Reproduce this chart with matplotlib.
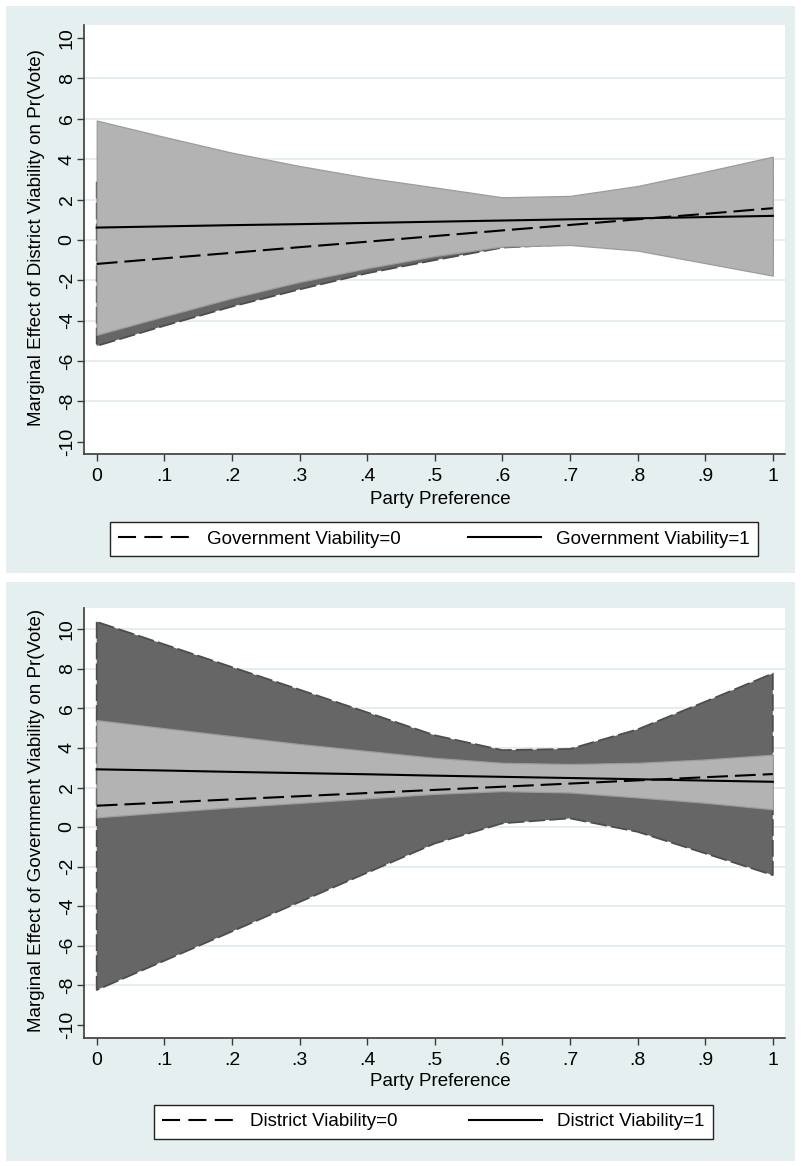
import matplotlib
matplotlib.use("Agg")
import matplotlib.pyplot as plt
from matplotlib.patches import Rectangle
from matplotlib.lines import Line2D

plt.rcParams['font.family'] = ['Liberation Sans', 'DejaVu Sans']
plt.rcParams['lines.scale_dashes'] = False

# ---------------- data ----------------
party_pref = [0.0, 0.1, 0.2, 0.3, 0.4, 0.5, 0.6, 0.7, 0.8, 0.9, 1.0]
x_ticks = [0.0, 0.1, 0.2, 0.3, 0.4, 0.5, 0.6, 0.7, 0.8, 0.9, 1.0]
x_tick_labels = ["0", ".1", ".2", ".3", ".4", ".5", ".6", ".7", ".8", ".9", "1"]
y_ticks = [-10, -8, -6, -4, -2, 0, 2, 4, 6, 8, 10]
y_tick_labels = ["-10", "-8", "-6", "-4", "-2", "0", "2", "4", "6", "8", "10"]

# Top panel: marginal effect of District Viability
top_gov0 = [-1.19, -0.91, -0.64, -0.36, -0.09, 0.19, 0.47, 0.74, 1.02, 1.29, 1.57]
top_gov1 = [0.61, 0.67, 0.73, 0.78, 0.84, 0.90, 0.96, 1.02, 1.07, 1.13, 1.19]
top_gov0_hi = [2.87, 2.43, 2.02, 1.73, 1.47, 1.38, 1.32, 1.70, 2.32, 3.09, 3.90]
top_gov0_lo = [-5.25, -4.25, -3.30, -2.45, -1.65, -1.00, -0.38, -0.22, -0.28, -0.51, -0.80]
top_gov1_hi = [5.91, 5.10, 4.32, 3.66, 3.08, 2.60, 2.11, 2.18, 2.67, 3.38, 4.12]
top_gov1_lo = [-4.70, -3.78, -2.88, -2.08, -1.40, -0.80, -0.33, -0.25, -0.53, -1.15, -1.77]

# Bottom panel: marginal effect of Government Viability
bot_dist0 = [1.08, 1.24, 1.40, 1.56, 1.72, 1.88, 2.04, 2.20, 2.36, 2.52, 2.68]
bot_dist1 = [2.92, 2.86, 2.79, 2.73, 2.67, 2.60, 2.54, 2.48, 2.42, 2.35, 2.29]
bot_dist0_hi = [10.38, 9.24, 8.09, 6.95, 5.80, 4.64, 3.89, 3.95, 4.94, 6.34, 7.77]
bot_dist0_lo = [-8.24, -6.76, -5.28, -3.79, -2.31, -0.83, 0.19, 0.44, -0.24, -1.33, -2.43]
bot_dist1_hi = [5.41, 5.00, 4.60, 4.20, 3.85, 3.50, 3.25, 3.19, 3.25, 3.42, 3.66]
bot_dist1_lo = [0.49, 0.75, 1.00, 1.22, 1.45, 1.68, 1.82, 1.75, 1.50, 1.23, 0.90]

x_label = "Party Preference"
top_ylabel = "Marginal Effect of District Viability on Pr(Vote)"
bot_ylabel = "Marginal Effect of Government Viability on Pr(Vote)"
top_legend = ["Government Viability=0", "Government Viability=1"]
bot_legend = ["District Viability=0", "District Viability=1"]

# ---------------- style ----------------
W, H = 801, 1166
BG = '#e6eff0'
GRID = '#e2edef'
SPINE = '#3a3a3a'
LIGHT = '#b3b3b3'
DARK = '#666666'
FS = 13.5
TFS = 14
DASH = (15, 5)

fig = plt.figure(figsize=(W / 100, H / 100), dpi=100, facecolor='white')


def fbox(l, t, r, b):
    return [l / W, 1 - b / H, (r - l) / W, (b - t) / H]


for (l, t, r, b) in [(6, 6, 795, 573), (6, 582, 795, 1161)]:
    fig.add_artist(Rectangle((l / W, 1 - b / H), (r - l) / W, (b - t) / H,
                             transform=fig.transFigure, facecolor=BG,
                             edgecolor='none', zorder=-10))


def panel(box, ylim, grid_vals, lo_d, hi_d, lo_l, hi_l, line_d, line_s,
          ylabel, ylabel_pos, xlabel_y, legend_labels, legend_center, colsp):
    ax = fig.add_axes(fbox(*box))
    ax.set_facecolor('white')
    ax.set_xlim(-0.0188, 1.018)
    ax.set_ylim(*ylim)
    for g in grid_vals:
        ax.axhline(g, color=GRID, lw=1.3, zorder=0.5)
    # dark band (dashed outline)
    ax.fill_between(party_pref, lo_d, hi_d, facecolor=DARK, edgecolor='#4d4d4d',
                    linewidth=1.3, linestyle=(0, (12, 3)), zorder=1)
    # light band
    ax.fill_between(party_pref, lo_l, hi_l, facecolor=LIGHT, edgecolor='#9c9c9c',
                    linewidth=0.9, zorder=2)
    ax.plot(party_pref, line_d, color='black', lw=1.5, dashes=DASH, zorder=3)
    ax.plot(party_pref, line_s, color='black', lw=1.5, zorder=3)

    for s in ['top', 'right']:
        ax.spines[s].set_visible(False)
    for s in ['left', 'bottom']:
        ax.spines[s].set_color(SPINE)
        ax.spines[s].set_linewidth(1.2)
    ax.set_xticks(x_ticks)
    ax.set_xticklabels(x_tick_labels)
    ax.set_yticks(y_ticks)
    ax.set_yticklabels(y_tick_labels)
    ax.tick_params(axis='both', direction='out', length=5, width=1.0,
                   color=SPINE, labelsize=TFS, labelcolor='black')
    ax.tick_params(axis='x', pad=5)
    ax.tick_params(axis='y', pad=1, labelrotation=90)
    for lab in ax.get_yticklabels():
        lab.set_verticalalignment('center')

    fig.text(ylabel_pos[0] / W, 1 - ylabel_pos[1] / H, ylabel, rotation=90,
             ha='center', va='center', fontsize=FS)
    fig.text(440 / W, 1 - xlabel_y / H, x_label, ha='center', va='center',
             fontsize=FS)

    handles = [Line2D([], [], color='black', lw=1.5, dashes=(13, 6)),
               Line2D([], [], color='black', lw=1.5)]
    leg = fig.legend(handles, legend_labels, loc='center',
                     bbox_to_anchor=(legend_center[0] / W, 1 - legend_center[1] / H),
                     ncol=2, fontsize=FS, frameon=True, fancybox=False,
                     framealpha=1, edgecolor='#222222', handlelength=3.9,
                     handletextpad=0.8, columnspacing=colsp, borderpad=0.45)
    leg.get_frame().set_linewidth(1.0)
    return ax


panel((84, 25, 785, 454), (-10.6, 10.64), [-8, -6, -4, -2, 0, 2, 4, 6, 8],
      top_gov0_lo, top_gov0_hi, top_gov1_lo, top_gov1_hi, top_gov0, top_gov1,
      top_ylabel, (37, 238), 499, top_legend, (434, 539), 3.6)

panel((84, 608, 785, 1038), (-10.67, 11.08), [-8, -6, -4, -2, 0, 2, 4, 6, 8, 10],
      bot_dist0_lo, bot_dist0_hi, bot_dist1_lo, bot_dist1_hi, bot_dist0, bot_dist1,
      bot_ylabel, (37, 820), 1082, bot_legend, (433.5, 1121.5), 3.8)

fig.savefig('out.png', dpi=100, facecolor='white')
